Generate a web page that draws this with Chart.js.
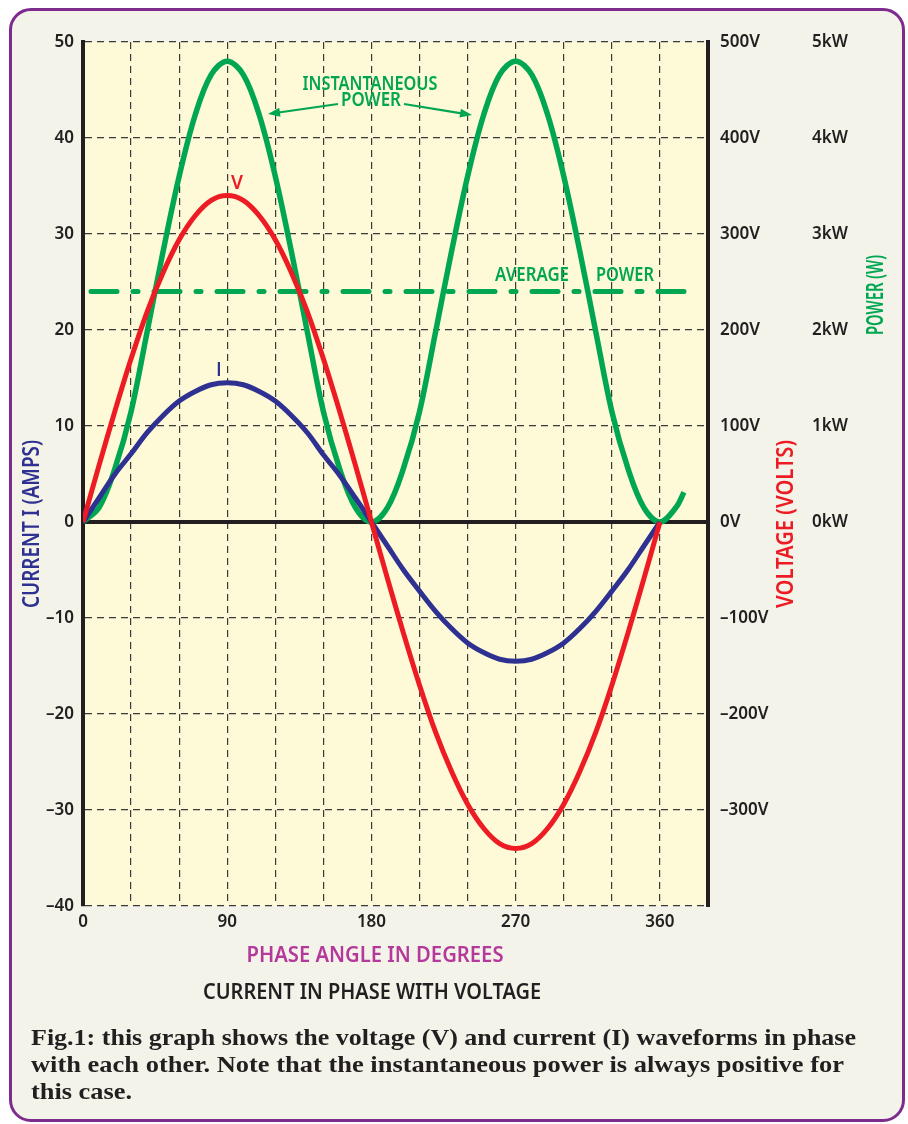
<!DOCTYPE html>
<html>
<head>
<meta charset="utf-8">
<script src="https://cdn.jsdelivr.net/npm/chart.js@4.4.1/dist/chart.umd.min.js"></script>
<style>
  html, body { margin: 0; padding: 0; background: #fff; }
  body { width: 908px; height: 1124px; position: relative; overflow: hidden; }
  .frame { position: absolute; left: 9px; top: 8px; width: 890px; height: 1108px; border: 3px solid #7d2c8e; border-radius: 22px; background: #f4f3e9; }
  .wrap { position: absolute; left: 0; top: 0; width: 908px; height: 1124px; }
  .caption { position: absolute; left: 31px; top: 1024px; font: bold 23px 'Liberation Serif', serif; color: #231f20; line-height: 27px; }
  .caption span { display: block; white-space: nowrap; transform-origin: 0 50%; }
</style>
</head>
<body>
<div class="frame"></div>
<div class="wrap"><canvas id="chart"></canvas></div>
<div class="caption" id="caption">
  <span>Fig.1: this graph shows the voltage (V) and current (I) waveforms in phase</span>
  <span>with each other. Note that the instantaneous power is always positive for</span>
  <span>this case.</span>
</div>
<script>
// phase angle in degrees
const ANGLES = [0, 10, 20, 30, 40, 50, 60, 70, 80, 90, 100, 110, 120, 130, 140, 150, 160, 170, 180,
  190, 200, 210, 220, 230, 240, 250, 260, 270, 280, 290, 300, 310, 320, 330, 340, 350, 360];
// current I (amps), left axis
const CURRENT_A = [0, 2.5, 5.0, 7.1, 9.3, 11.1, 12.6, 13.6, 14.3, 14.5, 14.3, 13.6, 12.6, 11.1, 9.3, 7.0, 4.9, 2.5, 0,
  -2.5, -5.0, -7.2, -9.3, -11.1, -12.6, -13.6, -14.3, -14.5, -14.3, -13.6, -12.6, -11.1, -9.3, -7.2, -5.0, -2.5, 0];
// voltage (volts), right axis
const VOLTAGE_V = [0, 59, 116, 170, 219, 260, 294, 319, 335, 340, 335, 319, 294, 260, 219, 170, 116, 59, 0,
  -59, -116, -170, -219, -260, -294, -319, -335, -340, -335, -319, -294, -260, -219, -170, -116, -59, 0];
// instantaneous power (kW)
const POWER_ANGLES = [0, 10, 20, 30, 40, 50, 60, 70, 80, 90, 100, 110, 120, 130, 140, 150, 160, 170, 180,
  190, 200, 210, 220, 230, 240, 250, 260, 270, 280, 290, 300, 310, 320, 330, 340, 350, 360, 370, 375];
const POWER_KW = [0, 0.15, 0.56, 1.15, 1.98, 2.82, 3.6, 4.24, 4.66, 4.8, 4.66, 4.24, 3.6, 2.82, 1.98, 1.15, 0.56, 0.15, 0,
  0.15, 0.56, 1.15, 1.98, 2.82, 3.6, 4.24, 4.66, 4.8, 4.66, 4.24, 3.6, 2.82, 1.98, 1.15, 0.56, 0.15, 0, 0.15, 0.31];
// average power (kW)
const AVG_ANGLES = [0, 376];
const AVG_KW = [2.4, 2.4];
const X_LABELS = [0, 90, 180, 270, 360];

const INK = '#231f20';
const GREEN = '#00a651';
const RED = '#ed1c24';
const BLUE = '#2e3192';
const FONT = "'Noto Sans', sans-serif";

const pts = (xs, ys) => xs.map((x, i) => ({ x, y: ys[i] }));
const isZero = c => c.tick && c.tick.value === 0;
const minus = v => (v < 0 ? '\u2013' + Math.abs(v) : String(v));

// text squeezed to the width it has in the print (w = null keeps natural width)
function fitText(ctx, str, cx, cy, w, size, color, rot, family) {
  ctx.save();
  ctx.translate(cx, cy);
  if (rot) ctx.rotate(rot);
  ctx.font = `600 ${size}px ${family || FONT}`;
  const mw = ctx.measureText(str).width;
  if (w) ctx.scale(w / mw, 1);
  ctx.fillStyle = color;
  ctx.textAlign = 'center';
  ctx.textBaseline = 'middle';
  ctx.fillText(str, 0, 0);
  ctx.restore();
}

function arrow(ctx, x1, y1, x2, y2, color) {
  const a = Math.atan2(y2 - y1, x2 - x1);
  ctx.save();
  ctx.strokeStyle = color;
  ctx.fillStyle = color;
  ctx.lineWidth = 2.2;
  ctx.beginPath();
  ctx.moveTo(x1, y1);
  ctx.lineTo(x2 - 9 * Math.cos(a), y2 - 9 * Math.sin(a));
  ctx.stroke();
  ctx.beginPath();
  ctx.moveTo(x2, y2);
  ctx.lineTo(x2 - 12 * Math.cos(a) + 4.5 * Math.sin(a), y2 - 12 * Math.sin(a) - 4.5 * Math.cos(a));
  ctx.lineTo(x2 - 12 * Math.cos(a) - 4.5 * Math.sin(a), y2 - 12 * Math.sin(a) + 4.5 * Math.cos(a));
  ctx.closePath();
  ctx.fill();
  ctx.restore();
}

const decorations = {
  id: 'decorations',
  beforeDraw(chart) {
    const { ctx, chartArea: a } = chart;
    ctx.save();
    ctx.fillStyle = '#fef9d6';
    ctx.fillRect(a.left, a.top, a.right - a.left, a.bottom - a.top);
    ctx.restore();
  },
  afterDraw(chart) {
    const ctx = chart.ctx;
    const up = -Math.PI / 2;
    fitText(ctx, 'CURRENT I (AMPS)', 32, 524, 168, 24, BLUE, up);
    fitText(ctx, 'VOLTAGE (VOLTS)', 786, 524, 168, 24, RED, up);
    fitText(ctx, 'POWER (W)', 876, 295, 80, 23, GREEN, up);
    fitText(ctx, 'PHASE ANGLE IN DEGREES', 375, 956, 257, 22, '#b5399b');
    fitText(ctx, 'CURRENT IN PHASE WITH VOLTAGE', 372, 993, 338, 22, INK);
    fitText(ctx, 'V', 237, 184, 12, 19, RED);
    fitText(ctx, 'I', 219, 371, null, 19, BLUE, 0, "'Open Sans', sans-serif");
    fitText(ctx, 'INSTANTANEOUS', 370, 84, 135, 20, GREEN);
    fitText(ctx, 'POWER', 371, 100, 60, 20, GREEN);
    fitText(ctx, 'AVERAGE', 532, 275, 74, 20, GREEN);
    fitText(ctx, 'POWER', 625, 275, 58, 20, GREEN);
    arrow(ctx, 338, 104, 268, 114, GREEN);
    arrow(ctx, 404, 104, 472, 115, GREEN);
  }
};

const tickFont = { family: FONT, size: 17, weight: '600' };

new Chart(document.getElementById('chart'), {
  type: 'line',
  data: {
    datasets: [
      { label: 'V', data: pts(ANGLES, VOLTAGE_V), yAxisID: 'y2', borderColor: RED, borderWidth: 5, tension: 0.35 },
      { label: 'I', data: pts(ANGLES, CURRENT_A), yAxisID: 'y', borderColor: BLUE, borderWidth: 5, tension: 0.35 },
      { label: 'P', data: pts(POWER_ANGLES, POWER_KW), yAxisID: 'y3', borderColor: GREEN, borderWidth: 5.5, tension: 0.35 },
      { label: 'Pavg', data: pts(AVG_ANGLES, AVG_KW), yAxisID: 'y3', borderColor: GREEN, borderWidth: 5,
        borderDash: [26, 16, 5, 16], borderDashOffset: 55, borderCapStyle: 'round' },
    ]
  },
  options: {
    responsive: true,
    maintainAspectRatio: false,
    animation: false,
    layout: { padding: { top: 42, left: 0, right: 0, bottom: 0 } },
    elements: { point: { radius: 0 }, line: { fill: false } },
    plugins: { legend: { display: false }, tooltip: { enabled: false } },
    scales: {
      x: {
        type: 'linear', min: 0, max: 390,
        afterFit: s => { s.height = 218; },
        ticks: { stepSize: 30, padding: 6, maxRotation: 0, autoSkip: false, color: INK, font: tickFont,
          callback: v => (X_LABELS.includes(v) ? String(v) : '') },
        grid: { color: '#3a3a3a', lineWidth: 1.2, drawTicks: false },
        border: { display: false, dash: [7, 5] }
      },
      y: {
        position: 'left', min: -40, max: 50,
        afterFit: s => { s.width = 83; },
        ticks: { stepSize: 10, padding: 9, color: INK, font: tickFont, callback: v => minus(v) },
        grid: { drawTicks: false, color: c => (isZero(c) ? INK : '#3a3a3a'), lineWidth: c => (isZero(c) ? 4 : 1.2) },
        border: { display: true, width: 4, color: INK, dash: c => (isZero(c) ? [] : [7, 5]) }
      },
      y2: {
        position: 'right', weight: 0, min: -400, max: 500,
        afterFit: s => { s.width = 104; },
        ticks: { stepSize: 100, padding: 12, color: INK, font: tickFont,
          callback: v => (v > -400 ? minus(v) + 'V' : '') },
        grid: { drawOnChartArea: false, drawTicks: false },
        border: { display: true, width: 4, color: INK }
      },
      y3: {
        position: 'right', weight: 1, min: -4, max: 5,
        afterFit: s => { s.width = 96; },
        ticks: { stepSize: 1, padding: 0, color: INK, font: tickFont,
          callback: v => (v >= 0 ? v + 'kW' : '') },
        grid: { drawOnChartArea: false, drawTicks: false },
        border: { display: false }
      }
    }
  },
  plugins: [decorations]
});

// stretch caption lines to the printed widths
const CAPTION_WIDTHS = [825, 813, 101];
document.querySelectorAll('#caption span').forEach((el, i) => {
  const r = document.createRange();
  r.selectNodeContents(el);
  const tw = r.getBoundingClientRect().width || el.getBoundingClientRect().width;
  el.style.transform = `scaleX(${CAPTION_WIDTHS[i] / tw})`;
});
</script>
</body>
</html>
